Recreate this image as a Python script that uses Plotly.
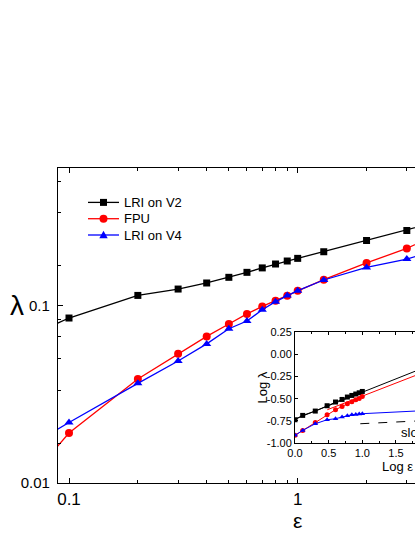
import plotly.graph_objects as go

# main panel data (epsilon vs lambda)
eps = [0.08, 0.1, 0.2, 0.3, 0.4, 0.5, 0.6, 0.7, 0.8, 0.9, 1.0, 1.3, 2.0, 3.0, 4.0]
lam_v2 = [0.0745, 0.0849, 0.1138, 0.1236, 0.1337, 0.1439, 0.1535, 0.1626, 0.171, 0.1778,
          0.184, 0.2005, 0.232, 0.264, 0.294]
lam_fpu = [0.0137, 0.0191, 0.0385, 0.0534, 0.0669, 0.0786, 0.0895, 0.0987, 0.1063, 0.1135,
           0.121, 0.1396, 0.1734, 0.2094, 0.248]
lam_v4 = [0.0185, 0.0219, 0.0364, 0.0486, 0.0607, 0.0739, 0.0817, 0.0945, 0.105, 0.1138,
          0.121, 0.139, 0.1637, 0.1824, 0.204]

# inset data (log-log)
log_eps = [0.0, 0.114, 0.301, 0.477, 0.602, 0.699, 0.778, 0.845, 0.903, 0.954, 1.0]
loglam_v2 = [-0.738, -0.689, -0.64, -0.58, -0.538, -0.509, -0.482, -0.464, -0.448, -0.434, -0.419]
loglam_fpu = [-0.914, -0.858, -0.768, -0.681, -0.625, -0.588, -0.557, -0.535, -0.512, -0.498, -0.475]
loglam_v4 = [-0.914, -0.858, -0.783, -0.738, -0.726, -0.707, -0.693, -0.681, -0.678, -0.673, -0.670]

# straight fits drawn in the inset
fit_v2_x, fit_v2_y = [0.0, 2.0], [-0.73, -0.126]
fit_fpu_x, fit_fpu_y = [0.48, 2.0], [-0.625, -0.177]
fit_v4_x, fit_v4_y = [0.99, 2.0], [-0.67, -0.632]
slope_x, slope_y = [0.97, 2.0], [-0.783, -0.745]

x_major = [0.1, 1]
x_minor = [0.2, 0.3, 0.4, 0.5, 0.6, 0.7, 0.8, 0.9, 2, 3, 4]
y_major = [0.01, 0.1]
y_minor = [0.01667, 0.03333, 0.05, 0.06667, 0.08333, 0.1667, 0.3333, 0.5]
inset_y_ticks = [-1.0, -0.75, -0.5, -0.25, 0.0, 0.25]
inset_y_text = ["-1.00", "-0.75", "-0.50", "-0.25", "0.00", "0.25"]

legend_names = ["LRI on V2", "FPU", "LRI on V4"]

FONT = "Arial, Liberation Sans, sans-serif"
BLACK, RED, BLUE = "#000000", "#ff0000", "#0000ff"

# plot area is 357 x 315 px; used to turn pixel offsets into paper units
PW, PH = 357.0, 315.0

fig = go.Figure()

series = [
    ("LRI on V2", lam_v2, BLACK, "square", 7),
    ("FPU", lam_fpu, RED, "circle", 8),
    ("LRI on V4", lam_v4, BLUE, "triangle-up", 8),
]
for name, yv, col, sym, sz in series:
    fig.add_trace(go.Scatter(
        x=eps, y=yv, name=name, mode="lines+markers", showlegend=False,
        line=dict(color=col, width=1.3),
        marker=dict(symbol=sym, size=sz, color=col),
        cliponaxis=True
    ))

inset = [
    (loglam_v2, fit_v2_x, fit_v2_y, BLACK, "square"),
    (loglam_fpu, fit_fpu_x, fit_fpu_y, RED, "circle"),
    (loglam_v4, fit_v4_x, fit_v4_y, BLUE, "triangle-up"),
]
for yv, fx, fy, col, sym in inset:
    fig.add_trace(go.Scatter(
        x=log_eps, y=yv, mode="lines+markers", showlegend=False,
        line=dict(color=col, width=1),
        marker=dict(symbol=sym, size=5, color=col),
        xaxis="x2", yaxis="y2"
    ))
    fig.add_trace(go.Scatter(
        x=fx, y=fy, mode="lines", showlegend=False,
        line=dict(color=col, width=1),
        xaxis="x2", yaxis="y2"
    ))

fig.add_trace(go.Scatter(
    x=slope_x, y=slope_y, mode="lines", showlegend=False,
    line=dict(color=BLACK, width=1, dash="dash"),
    xaxis="x2", yaxis="y2"
))

# hand-drawn legend (Origin style, tighter rows than plotly's legend allows)
shapes = []
annotations = []
leg_x0, leg_x1, leg_xm, leg_tx = 30 / PW, 61 / PW, 45.5 / PW, 64 / PW
leg_rows = [0.8908, 0.8390, 0.7873]
for name, row, (_, _, col, sym, _) in zip(legend_names, leg_rows, series):
    shapes.append(dict(type="line", xref="paper", yref="paper",
                       x0=leg_x0, x1=leg_x1, y0=row, y1=row,
                       line=dict(color=col, width=1.3)))
    if sym == "square":
        dx, dy = 3.5 / PW, 3.5 / PH
        shapes.append(dict(type="rect", xref="paper", yref="paper",
                           x0=leg_xm - dx, x1=leg_xm + dx, y0=row - dy, y1=row + dy,
                           fillcolor=col, line=dict(width=0)))
    elif sym == "circle":
        dx, dy = 4 / PW, 4 / PH
        shapes.append(dict(type="circle", xref="paper", yref="paper",
                           x0=leg_xm - dx, x1=leg_xm + dx, y0=row - dy, y1=row + dy,
                           fillcolor=col, line=dict(width=0)))
    else:
        dx, up, dn = 4.2 / PW, 4.2 / PH, 3.2 / PH
        path = (f"M{leg_xm - dx},{row - dn} L{leg_xm + dx},{row - dn} "
                f"L{leg_xm},{row + up} Z")
        shapes.append(dict(type="path", xref="paper", yref="paper", path=path,
                           fillcolor=col, line=dict(width=0)))
    annotations.append(dict(text=name, x=leg_tx, y=row, xref="paper", yref="paper",
                            xanchor="left", yanchor="middle", showarrow=False,
                            font=dict(size=13, family=FONT)))

annotations += [
    dict(text="λ", x=-0.115, y=0.563, xref="paper", yref="paper",
         xanchor="center", yanchor="middle",
         showarrow=False, font=dict(size=28, family=FONT)),
    dict(text="ε", x=0.672, y=-0.118, xref="paper", yref="paper",
         xanchor="center", yanchor="middle",
         showarrow=False, font=dict(size=21, family=FONT)),
    dict(text="Log λ", x=0.574, y=0.303, xref="paper", yref="paper",
         xanchor="center", yanchor="middle",
         textangle=-90, showarrow=False, font=dict(size=13, family=FONT)),
    dict(text="Log ε", x=0.951, y=0.052, xref="paper", yref="paper",
         xanchor="center", yanchor="middle",
         showarrow=False, font=dict(size=13, family=FONT)),
    dict(text="slope = 0.04", x=0.955, y=0.159, xref="paper", yref="paper",
         xanchor="left", yanchor="middle",
         showarrow=False, font=dict(size=13, family=FONT)),
]

fig.update_layout(
    width=415, height=537,
    margin=dict(l=58, r=0, t=168, b=54),
    paper_bgcolor="white", plot_bgcolor="white",
    font=dict(family=FONT, color="black"),
    showlegend=False,
    shapes=shapes,
    annotations=annotations,
    xaxis=dict(
        type="log", range=[-1.0481, 0.5129],
        showline=True, linecolor="black", linewidth=1.2, mirror="ticks",
        showgrid=False, zeroline=False,
        ticks="inside", ticklen=5, tickcolor="black",
        tickmode="array", tickvals=x_major, ticktext=["0.1", "1"],
        tickfont=dict(size=17),
        minor=dict(tickmode="array", tickvals=x_minor, ticks="inside", ticklen=3,
                   tickcolor="black", showgrid=False)
    ),
    yaxis=dict(
        type="log", range=[-2, -0.2264],
        showline=True, linecolor="black", linewidth=1.2, mirror=False,
        showgrid=False, zeroline=False,
        ticks="inside", ticklen=5, tickcolor="black",
        tickmode="array", tickvals=y_major, ticktext=["0.01", "0.1"],
        tickfont=dict(size=15), ticklabelstandoff=4,
        minor=dict(tickmode="array", tickvals=y_minor, ticks="inside", ticklen=3,
                   tickcolor="black", showgrid=False)
    ),
    xaxis2=dict(
        domain=[0.6639, 1.0], anchor="y2", range=[0, 1.783],
        showline=True, linecolor="black", linewidth=1, mirror="ticks",
        showgrid=False, zeroline=False,
        ticks="inside", ticklen=3, tickcolor="black",
        tickmode="array", tickvals=[0.0, 0.5, 1.0, 1.5],
        ticktext=["0.0", "0.5", "1.0", "1.5"],
        tickfont=dict(size=11),
        minor=dict(tickmode="array", tickvals=[0.25, 0.75, 1.25, 1.75], ticks="inside",
                   ticklen=2, tickcolor="black", showgrid=False)
    ),
    yaxis2=dict(
        domain=[0.127, 0.479], anchor="x2", range=[-1.0, 0.25],
        showline=True, linecolor="black", linewidth=1, mirror=False,
        showgrid=False, zeroline=False,
        ticks="inside", ticklen=3, tickcolor="black",
        tickmode="array", tickvals=inset_y_ticks, ticktext=inset_y_text,
        tickfont=dict(size=11)
    ),
)

# drop the browser's default 8px body margin so the figure fills the window,
# cut off at the right edge like the reference
page_fix = ("document.body.style.margin='0';"
            "document.documentElement.style.overflow='hidden';")
fig.write_html("out.html", post_script=page_fix, config={"displayModeBar": False})
